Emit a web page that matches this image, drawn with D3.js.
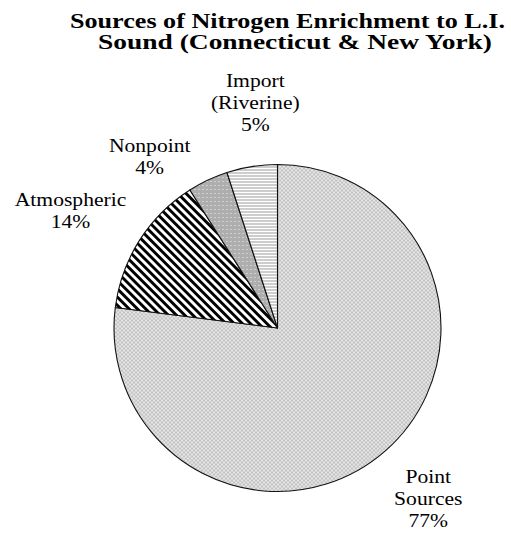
<!DOCTYPE html>
<html>
<head>
<meta charset="utf-8">
<script src="https://cdn.jsdelivr.net/npm/d3@7"></script>
<style>
  html, body { margin: 0; padding: 0; background: #fff; }
  svg { display: block; }
  text { font-family: "Liberation Serif", "Times New Roman", serif; fill: #000; }
</style>
</head>
<body>
<script>
// ---- data ----
const categories = ["Point Sources", "Atmospheric", "Nonpoint", "Import (Riverine)"];
const values = [77, 14, 4, 5];
const labelLines = [["Point", "Sources"], ["Atmospheric"], ["Nonpoint"], ["Import", "(Riverine)"]];
const titleLines = ["Sources of Nitrogen Enrichment to L.I.", "Sound (Connecticut & New York)"];

// ---- layout ----
const W = 511, H = 544;
const cx = 277.5, cy = 328, R = 163.5;
const labelR = 225;
const nudges = [[2, 2], [-17, 3], [-32, 32], [13, -3]];
const fills = ["url(#pPoint)", "url(#pAtmo)", "url(#pNon)", "url(#pImport)"];
const widen = 1.2;

const svg = d3.select("body").append("svg").attr("width", W).attr("height", H);
const defs = svg.append("defs");

// Point sources: light gray checkered dots
const p1 = defs.append("pattern").attr("id", "pPoint").attr("patternUnits", "userSpaceOnUse")
  .attr("width", 4).attr("height", 4);
p1.append("rect").attr("width", 4).attr("height", 4).attr("fill", "#d4d4d4");
[[0, 0], [2, 2]].forEach(([x, y]) => p1.append("rect").attr("x", x).attr("y", y).attr("width", 1).attr("height", 1).attr("fill", "#f6f6f6"));
[[2, 0], [0, 2]].forEach(([x, y]) => p1.append("rect").attr("x", x).attr("y", y).attr("width", 1).attr("height", 1).attr("fill", "#b2b2b2"));

// Atmospheric: black diagonal stripes
const p2 = defs.append("pattern").attr("id", "pAtmo").attr("patternUnits", "userSpaceOnUse")
  .attr("width", 5.8).attr("height", 10).attr("patternTransform", "rotate(-45)");
p2.append("rect").attr("width", 5.8).attr("height", 10).attr("fill", "#fff");
p2.append("rect").attr("width", 2.9).attr("height", 10).attr("fill", "#000");

// Nonpoint: medium gray with white dots
const p3 = defs.append("pattern").attr("id", "pNon").attr("patternUnits", "userSpaceOnUse")
  .attr("width", 4).attr("height", 4);
p3.append("rect").attr("width", 4).attr("height", 4).attr("fill", "#aeaeae");
p3.append("rect").attr("x", 1).attr("y", 1).attr("width", 1).attr("height", 1).attr("fill", "#f2f2f2");

// Import: horizontal light gray stripes
const p4 = defs.append("pattern").attr("id", "pImport").attr("patternUnits", "userSpaceOnUse")
  .attr("width", 4).attr("height", 3);
p4.append("rect").attr("width", 4).attr("height", 3).attr("fill", "#fff");
p4.append("rect").attr("width", 4).attr("height", 2).attr("fill", "#cdcdcd");

// ---- title ----
const titleX = [287.5, 295];
const titleY = [28, 49];
const titleW = [435, 394];
svg.append("g").selectAll("text").data(titleLines).join("text")
  .attr("x", (d, i) => titleX[i]).attr("y", (d, i) => titleY[i])
  .attr("text-anchor", "middle")
  .attr("font-size", 20.5).attr("font-weight", "bold")
  .attr("textLength", (d, i) => titleW[i]).attr("lengthAdjust", "spacingAndGlyphs")
  .text(d => d);

// ---- pie ----
const data = categories.map((c, i) => ({ category: c, value: values[i], lines: labelLines[i].concat([values[i] + "%"]), i }));
const pie = d3.pie().sort(null).value(d => d.value);
const arcs = pie(data);
const arc = d3.arc().innerRadius(0).outerRadius(R);
const labelArc = d3.arc().innerRadius(labelR).outerRadius(labelR);

const g = svg.append("g").attr("transform", `translate(${cx},${cy})`);
g.selectAll("path").data(arcs).join("path")
  .attr("d", arc)
  .attr("fill", d => fills[d.data.i])
  .attr("stroke", "#111").attr("stroke-width", 1.1).attr("stroke-linejoin", "round");

// ---- labels ----
const fs = 18, lh = 22;
const lg = g.append("g");
arcs.forEach(a => {
  const [x, y] = labelArc.centroid(a);
  const nx = x + nudges[a.data.i][0], ny = y + nudges[a.data.i][1];
  const n = a.data.lines.length;
  a.data.lines.forEach((ln, k) => {
    const t = lg.append("text").attr("text-anchor", "middle").attr("font-size", fs)
      .attr("x", nx).attr("y", ny + (k - (n - 1) / 2) * lh + fs * 0.35).text(ln);
    const w = t.node().getComputedTextLength();
    t.attr("textLength", w * widen).attr("lengthAdjust", "spacingAndGlyphs");
  });
});
</script>
</body>
</html>
